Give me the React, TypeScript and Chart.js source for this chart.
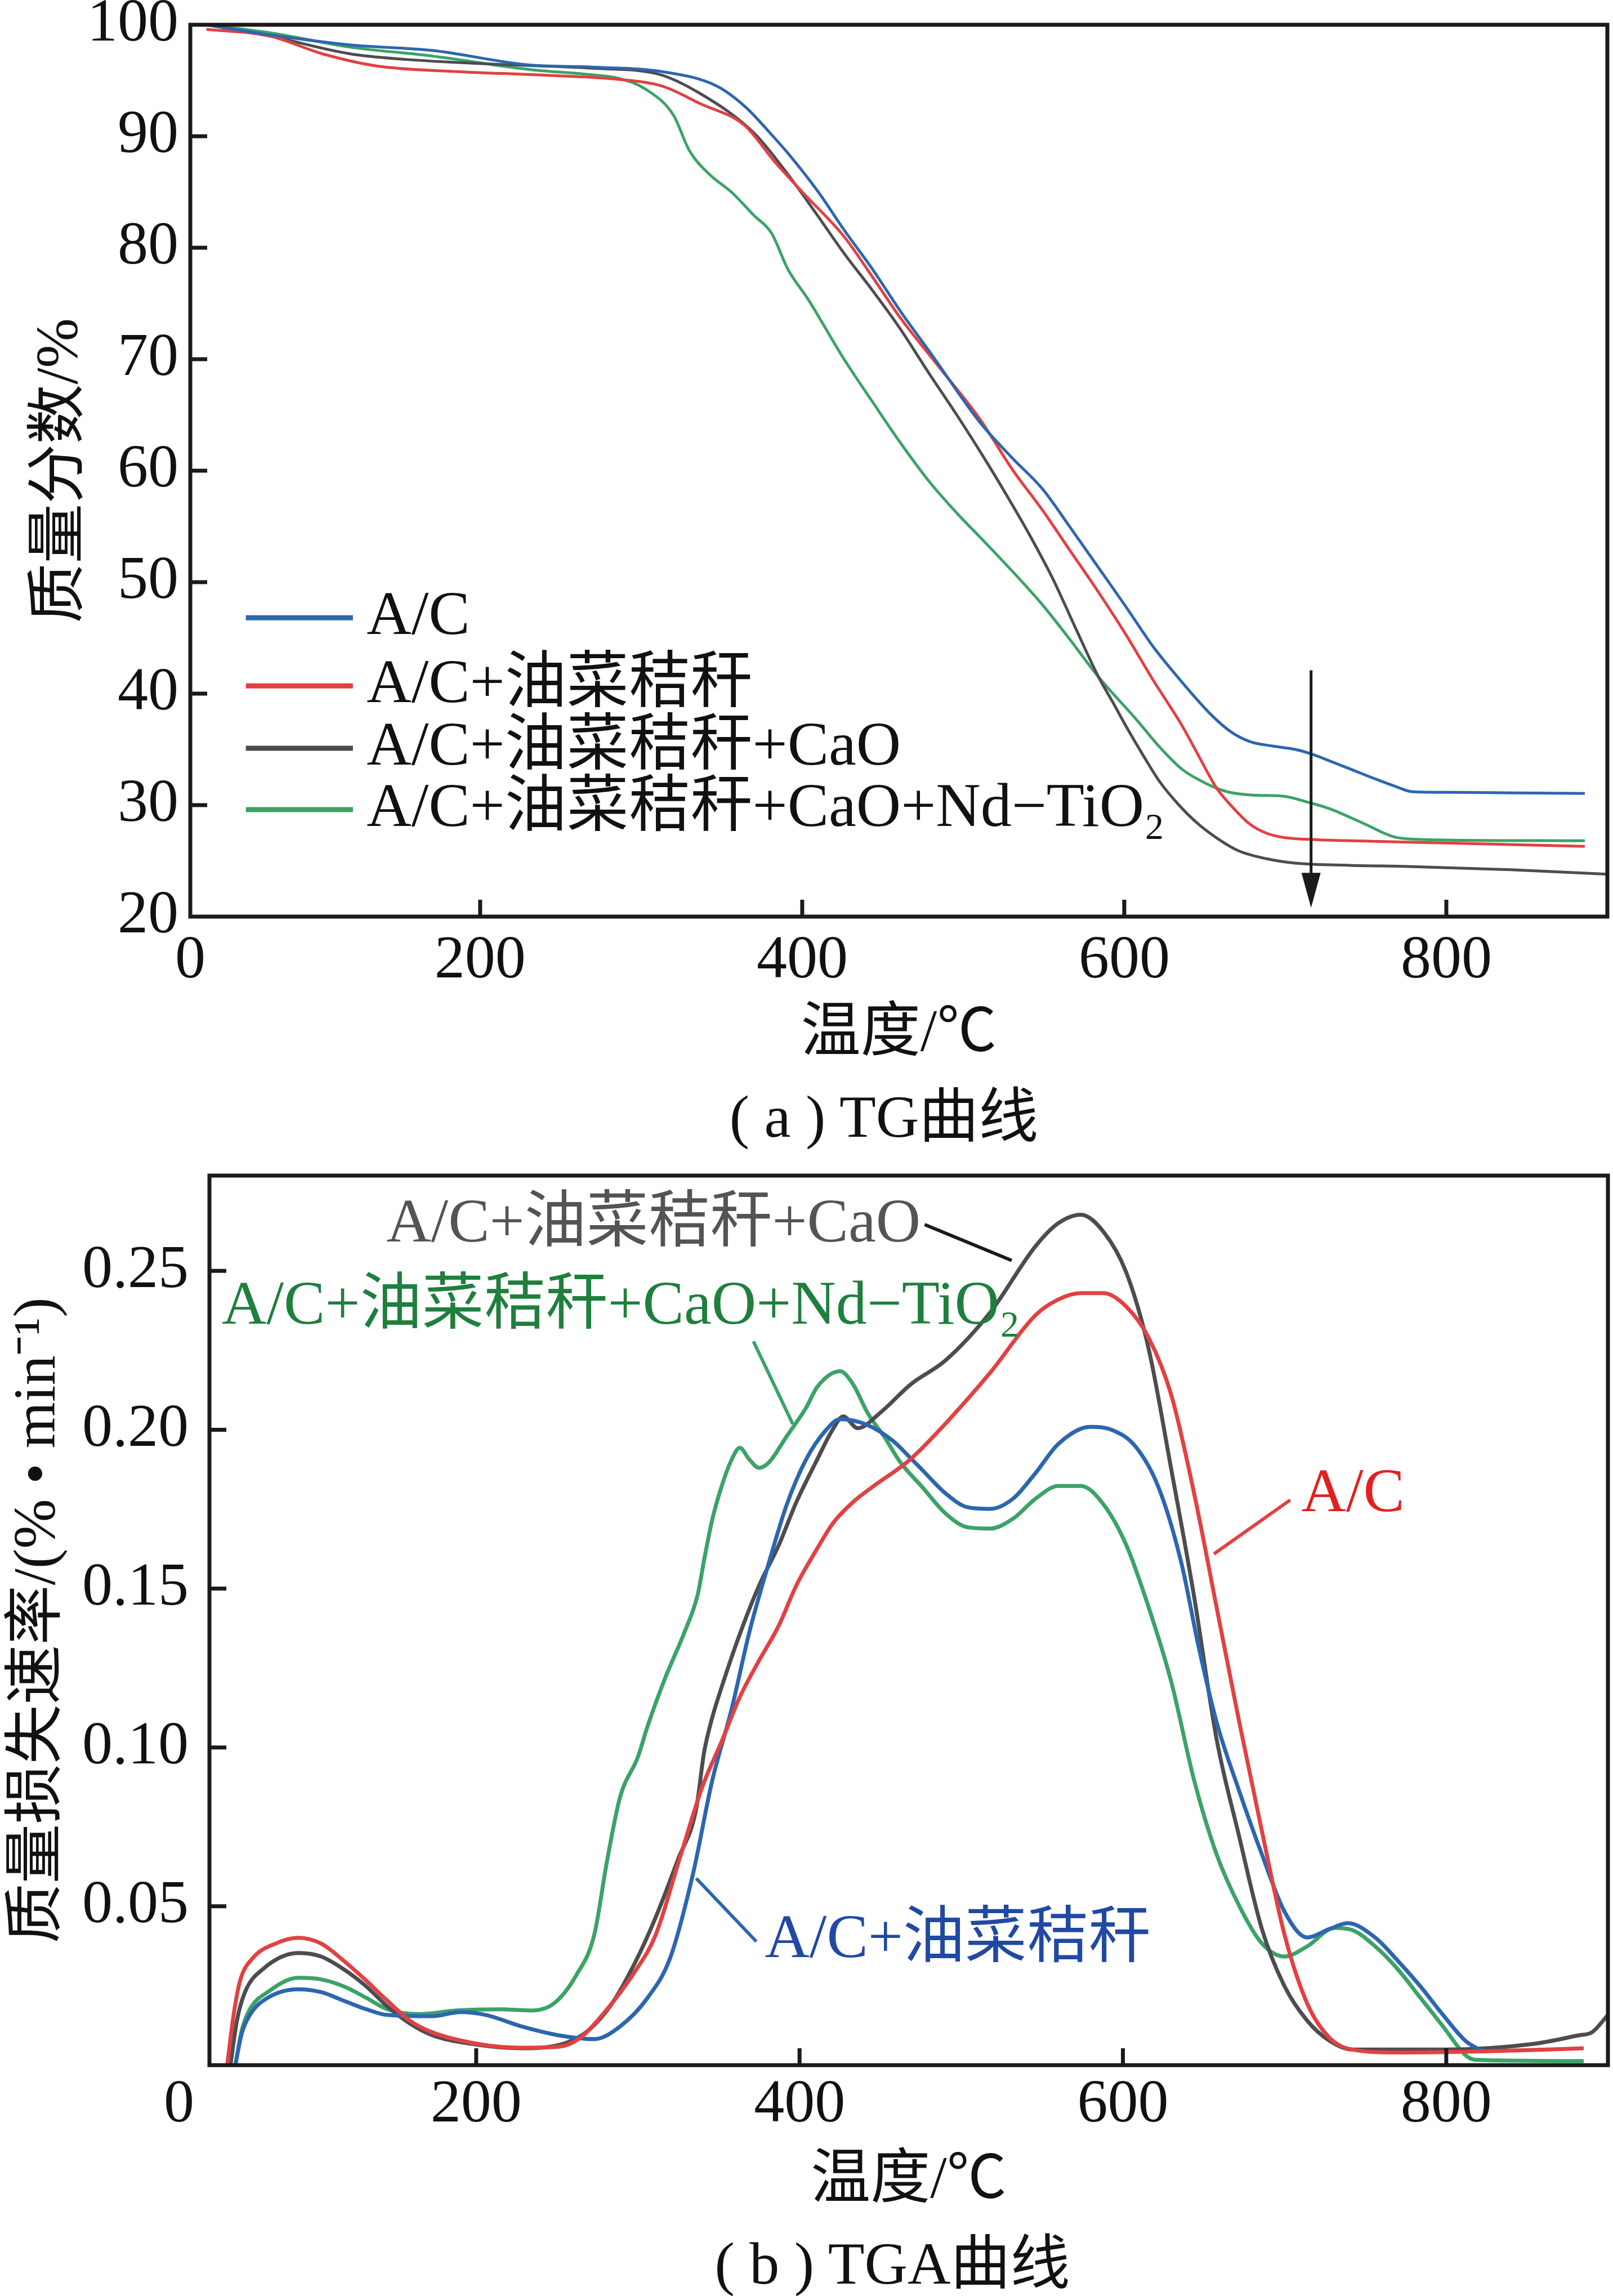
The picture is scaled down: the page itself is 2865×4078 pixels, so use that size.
import React, { useEffect, useRef } from "react";
import { Chart, registerables } from "chart.js";

Chart.register(...registerables);

const FONT = '"Liberation Serif", "Noto Sans CJK SC", serif';
const INK = "#1a1a1a";
const BLUE = "#2c66b0";
const RED = "#e24142";
const GRAY = "#4d4d4f";
const GREEN = "#3ba367";

// ---------- (a) TG data ----------
const TG_AC_T = [30, 69, 119, 170, 230, 270, 313, 347, 365, 380, 391, 410, 426, 444, 461, 480, 510, 530, 549, 566, 584, 601, 618, 636, 654, 666, 678, 692, 706, 716, 727, 741, 755, 768, 779, 800, 840, 886];
const TG_AC_V = [100, 99.1, 98.2, 97.7, 96.4, 96.2, 95.8, 94.5, 92.6, 90.3, 88.5, 85.0, 81.6, 78.0, 74.3, 70.5, 64.4, 61.2, 58.4, 55.0, 51.3, 47.8, 44.2, 41.0, 38.1, 36.6, 35.7, 35.3, 35.0, 34.6, 34.0, 33.2, 32.4, 31.7, 31.2, 31.15, 31.1, 31.05];

const TG_RS_T = [30, 69, 102, 136, 186, 236, 286, 313, 337, 364, 383, 400, 426, 444, 461, 485, 510, 531, 549, 566, 584, 601, 618, 636, 647, 657, 668, 678, 688, 699, 720, 741, 800, 886];
const TG_RS_V = [99.6, 99.0, 97.4, 96.3, 95.8, 95.5, 95.1, 94.5, 92.9, 91.0, 87.7, 85.0, 81.0, 77.3, 73.7, 69.3, 64.7, 60.0, 56.5, 52.9, 49.1, 45.3, 41.2, 37.1, 34.2, 31.6, 29.7, 28.3, 27.5, 27.1, 26.9, 26.8, 26.6, 26.3];

const TG_CAO_T = [30, 69, 119, 153, 203, 270, 310, 337, 370, 391, 408, 426, 444, 461, 478, 496, 514, 531, 544, 556, 570, 584, 593, 601, 612, 622, 634, 646, 660, 671, 688, 706, 740, 776, 840, 900];
const TG_CAO_V = [100, 99.0, 97.4, 96.9, 96.5, 96.1, 95.6, 93.8, 90.3, 86.6, 83.2, 79.5, 76.1, 72.7, 68.9, 65.0, 60.9, 56.8, 53.5, 50.2, 45.8, 41.5, 39.2, 37.1, 34.4, 32.1, 30.0, 28.3, 26.8, 25.9, 25.2, 24.8, 24.6, 24.5, 24.2, 23.8];

const TG_ND_T = [30, 69, 119, 170, 230, 270, 286, 303, 320, 330, 343, 356, 370, 381, 391, 404, 426, 444, 461, 479, 496, 514, 531, 549, 566, 584, 608, 622, 636, 650, 664, 680, 699, 713, 727, 748, 769, 790, 886];
const TG_ND_V = [100, 99.3, 98.0, 97.2, 96.0, 95.5, 95.2, 94.2, 91.9, 88.7, 86.5, 85.0, 82.9, 81.3, 78.1, 75.3, 70.0, 66.1, 62.5, 59.0, 56.2, 53.5, 50.9, 48.0, 44.9, 41.5, 37.6, 35.2, 33.2, 32.0, 31.2, 30.9, 30.8, 30.3, 29.7, 28.4, 27.1, 26.9, 26.8];

// ---------- (b) TGA data ----------
const DTG_AC_T = [46, 50, 54, 62, 76, 90, 104, 118, 132, 145, 159, 173, 201, 228, 251, 264, 278, 298, 311, 326, 340, 352, 363, 375, 387, 398, 410, 421, 433, 444, 469, 490, 518, 546, 560, 574, 588, 602, 616, 630, 644, 658, 672, 686, 700, 714, 728, 742, 770, 826, 885];
const DTG_AC_V = [0.0, 0.016, 0.0266, 0.0338, 0.0383, 0.0401, 0.0383, 0.0329, 0.0266, 0.0203, 0.014, 0.0103, 0.0067, 0.0055, 0.0058, 0.0085, 0.0158, 0.0293, 0.041, 0.0653, 0.0878, 0.1021, 0.1158, 0.1274, 0.1382, 0.151, 0.1618, 0.1708, 0.1772, 0.1816, 0.1909, 0.2018, 0.218, 0.2361, 0.241, 0.243, 0.243, 0.2388, 0.2289, 0.2108, 0.1801, 0.144, 0.1079, 0.0736, 0.041, 0.0194, 0.0085, 0.0049, 0.004, 0.0044, 0.0053];

const DTG_CAO_T = [48, 52, 57, 68, 90, 104, 118, 132, 145, 159, 173, 201, 228, 256, 270, 284, 298, 311, 325, 336, 341, 346, 352, 363, 375, 387, 398, 410, 421, 427, 436, 450, 469, 490, 518, 546, 560, 574, 588, 602, 616, 630, 644, 658, 672, 686, 700, 714, 728, 742, 798, 854, 882, 890, 900];
const DTG_CAO_V = [0.0, 0.014, 0.023, 0.0302, 0.0353, 0.0342, 0.0302, 0.0248, 0.0185, 0.0131, 0.0094, 0.0064, 0.0053, 0.0071, 0.0112, 0.0194, 0.032, 0.0465, 0.065, 0.0805, 0.0986, 0.1094, 0.1193, 0.1356, 0.151, 0.1635, 0.1772, 0.1897, 0.2005, 0.2042, 0.2005, 0.2054, 0.2144, 0.2217, 0.237, 0.2578, 0.265, 0.2677, 0.2623, 0.2496, 0.2253, 0.1873, 0.1476, 0.1025, 0.0718, 0.0428, 0.0248, 0.014, 0.0076, 0.0049, 0.0049, 0.0067, 0.0094, 0.0103, 0.0158];

const DTG_RS_T = [51, 55, 60, 71, 90, 104, 118, 132, 145, 173, 190, 206, 228, 251, 273, 289, 306, 320, 334, 346, 358, 369, 381, 392, 404, 416, 425, 442, 458, 469, 476, 490, 504, 518, 532, 546, 560, 580, 593, 608, 622, 636, 647, 658, 672, 686, 700, 714, 728, 739, 756, 770, 784, 798, 812, 822];
const DTG_RS_V = [0.0, 0.01, 0.0158, 0.0212, 0.0239, 0.023, 0.0203, 0.0176, 0.0158, 0.0154, 0.0167, 0.0158, 0.0122, 0.0094, 0.0082, 0.0122, 0.0212, 0.0338, 0.06, 0.0896, 0.1121, 0.1364, 0.1581, 0.1763, 0.1906, 0.1997, 0.2033, 0.2015, 0.1964, 0.1909, 0.1873, 0.1801, 0.1756, 0.1751, 0.1783, 0.1864, 0.1955, 0.2009, 0.2, 0.1946, 0.1819, 0.1584, 0.1313, 0.1079, 0.0862, 0.0663, 0.0483, 0.0402, 0.0429, 0.0447, 0.0402, 0.0329, 0.0248, 0.0158, 0.0076, 0.0045];

const DTG_ND_T = [51, 55, 60, 71, 90, 104, 118, 132, 145, 165, 187, 215, 234, 248, 262, 273, 281, 289, 300, 306, 317, 329, 337, 341, 346, 352, 358, 363, 369, 375, 381, 392, 404, 411, 425, 433, 442, 453, 462, 476, 490, 504, 518, 532, 546, 560, 574, 588, 602, 616, 630, 644, 658, 672, 686, 700, 714, 731, 742, 756, 770, 784, 798, 812, 818, 885];
const DTG_ND_V = [0.0, 0.011, 0.0176, 0.023, 0.0275, 0.027, 0.0248, 0.0212, 0.0176, 0.0161, 0.0172, 0.0176, 0.0172, 0.0194, 0.0284, 0.041, 0.0645, 0.0844, 0.097, 0.1067, 0.122, 0.1365, 0.1481, 0.1591, 0.1717, 0.1825, 0.1906, 0.1943, 0.1906, 0.188, 0.1897, 0.1979, 0.2069, 0.2135, 0.2184, 0.2144, 0.2054, 0.1973, 0.19, 0.1819, 0.1738, 0.1693, 0.1689, 0.172, 0.1783, 0.1823, 0.1823, 0.1765, 0.1638, 0.144, 0.1205, 0.0898, 0.0663, 0.0501, 0.0383, 0.0342, 0.0374, 0.0432, 0.0425, 0.0374, 0.0302, 0.0212, 0.0122, 0.0031, 0.0017, 0.0013];

// ---------- labels ----------
const SERIES_NAMES = ["A/C", "A/C+油菜秸秆", "A/C+油菜秸秆+CaO", "A/C+油菜秸秆+CaO+Nd−TiO"];
const SERIES_SUBS = ["", "", "", "2"];
const TG_X_TICKS = [20, 200, 400, 600, 800];
const TGA_X_TICKS = [35, 200, 400, 600, 800];
const TGA_Y_TICKS = [0.05, 0.1, 0.15, 0.2, 0.25];

// legend rows (panel a) in data coordinates: [lineStartT, lineEndT, textT], y rows
const LEGEND_X = [54.5, 121, 129.5];
const LEGEND_Y = [46.8, 40.7, 35.1, 29.6];
// arrow (panel a)
const ARROW = { t: 716, from: 42.1, to: 20.8 };

// annotations (panel b): text anchor + leader line, data coordinates
const ANNOTATIONS = [
  { name: 2, color: "#545454", lineColor: INK, tx: 144.4, ty: 0.2644, l: [477.4, 0.2646, 531.2, 0.2533] },
  { name: 3, color: "#1f7f3d", lineColor: GREEN, tx: 42.7, ty: 0.2386, l: [371.5, 0.2278, 395.8, 0.2018] },
  { name: 0, color: "#e2201f", lineColor: RED, tx: 710.4, ty: 0.1795, l: [703.5, 0.1779, 656.3, 0.1609] },
  { name: 1, color: "#2149a3", lineColor: BLUE, tx: 378.5, ty: 0.0391, l: [373.3, 0.0389, 336.1, 0.0588] },
];

const pts = (t: number[], v: number[]) => t.map((x, i) => ({ x, y: v[i] }));

function drawRich(ctx: CanvasRenderingContext2D, x: number, y: number, main: string, sub: string, size: number, color: string) {
  ctx.font = `${size}px ${FONT}`;
  ctx.fillStyle = color;
  ctx.textBaseline = "middle";
  ctx.textAlign = "left";
  ctx.fillText(main, x, y);
  if (sub) {
    const w = ctx.measureText(main).width;
    ctx.font = `${Math.round(size * 0.6)}px ${FONT}`;
    ctx.fillText(sub, x + w + 2, y + size * 0.32);
  }
}

function framePlugin(lw: number, tickLen: number, tickW: number) {
  return {
    id: "frameTicks",
    afterDatasetsDraw(chart: any) {
      const { ctx, chartArea: a } = chart;
      const xs = chart.scales.x;
      const ys = chart.scales.y;
      ctx.save();
      ctx.strokeStyle = INK;
      ctx.lineWidth = tickW;
      ctx.beginPath();
      for (const t of xs.ticks) {
        const p = xs.getPixelForValue(t.value);
        if (p <= a.left + 3 || p >= a.right - 3) continue;
        ctx.moveTo(p, a.bottom);
        ctx.lineTo(p, a.bottom - tickLen);
      }
      for (const t of ys.ticks) {
        const p = ys.getPixelForValue(t.value);
        if (p <= a.top + 3 || p >= a.bottom - 3) continue;
        ctx.moveTo(a.left, p);
        ctx.lineTo(a.left + tickLen, p);
      }
      ctx.stroke();
      ctx.lineWidth = lw;
      ctx.strokeRect(a.left, a.top, a.right - a.left, a.bottom - a.top);
      ctx.restore();
    },
  };
}

const legendPlugin = {
  id: "tgLegend",
  afterDraw(chart: any) {
    const { ctx } = chart;
    const xs = chart.scales.x;
    const ys = chart.scales.y;
    const colors = [BLUE, RED, GRAY, GREEN];
    ctx.save();
    for (let i = 0; i < 4; i++) {
      const y = ys.getPixelForValue(LEGEND_Y[i]);
      ctx.strokeStyle = colors[i];
      ctx.lineWidth = 9;
      ctx.beginPath();
      ctx.moveTo(xs.getPixelForValue(LEGEND_X[0]), y);
      ctx.lineTo(xs.getPixelForValue(LEGEND_X[1]), y);
      ctx.stroke();
      drawRich(ctx, xs.getPixelForValue(LEGEND_X[2]), y, SERIES_NAMES[i], SERIES_SUBS[i], 110, "#111");
    }
    // arrow
    const ax = xs.getPixelForValue(ARROW.t);
    const y1 = ys.getPixelForValue(ARROW.from);
    const y2 = ys.getPixelForValue(ARROW.to);
    ctx.strokeStyle = INK;
    ctx.fillStyle = INK;
    ctx.lineWidth = 5;
    ctx.beginPath();
    ctx.moveTo(ax, y1);
    ctx.lineTo(ax, y2 - 50);
    ctx.stroke();
    ctx.beginPath();
    ctx.moveTo(ax, y2);
    ctx.lineTo(ax - 17, y2 - 62);
    ctx.lineTo(ax + 17, y2 - 62);
    ctx.closePath();
    ctx.fill();
    ctx.restore();
  },
};

const annotationPlugin = {
  id: "tgaNotes",
  afterDraw(chart: any) {
    const { ctx } = chart;
    const xs = chart.scales.x;
    const ys = chart.scales.y;
    ctx.save();
    for (const a of ANNOTATIONS) {
      ctx.strokeStyle = a.lineColor;
      ctx.lineWidth = 6;
      ctx.beginPath();
      ctx.moveTo(xs.getPixelForValue(a.l[0]), ys.getPixelForValue(a.l[1]));
      ctx.lineTo(xs.getPixelForValue(a.l[2]), ys.getPixelForValue(a.l[3]));
      ctx.stroke();
      drawRich(ctx, xs.getPixelForValue(a.tx), ys.getPixelForValue(a.ty), SERIES_NAMES[a.name], SERIES_SUBS[a.name], 110, a.color);
    }
    ctx.restore();
  },
};

function ds(label: string, data: any[], color: string, width: number) {
  return {
    label,
    data,
    borderColor: color,
    backgroundColor: color,
    borderWidth: width,
    pointRadius: 0,
    fill: false,
    cubicInterpolationMode: "monotone" as const,
  };
}

function zeroPad(s: any) {
  s.paddingLeft = 0;
  s.paddingRight = 0;
  s.paddingTop = 0;
  s.paddingBottom = 0;
}

function tgConfig(): any {
  return {
    type: "line",
    data: {
      datasets: [
        ds(SERIES_NAMES[0], pts(TG_AC_T, TG_AC_V), BLUE, 5),
        ds(SERIES_NAMES[1], pts(TG_RS_T, TG_RS_V), RED, 5),
        ds(SERIES_NAMES[2], pts(TG_CAO_T, TG_CAO_V), GRAY, 5),
        ds(SERIES_NAMES[3], pts(TG_ND_T, TG_ND_V), GREEN, 5),
      ],
    },
    options: {
      animation: false,
      responsive: false,
      devicePixelRatio: 1,
      events: [],
      layout: { padding: { left: 0, top: 44, right: 10, bottom: 0 } },
      plugins: { legend: { display: false }, tooltip: { enabled: false } },
      scales: {
        x: {
          type: "linear",
          min: 20,
          max: 900,
          afterBuildTicks: (s: any) => {
            s.ticks = TG_X_TICKS.map((v) => ({ value: v }));
          },
          afterFit: (s: any) => {
            s.height = 292;
            zeroPad(s);
          },
          ticks: {
            autoSkip: false,
            maxRotation: 0,
            padding: 15,
            color: "#111",
            font: { family: FONT, size: 108 },
            callback: (v: any) => (v === TG_X_TICKS[0] ? "0" : String(v)),
          },
          grid: { display: false, drawTicks: false, tickLength: 0 },
          border: { display: false },
          title: { display: true, text: "温度/℃", color: "#111", font: { family: FONT, size: 106 }, padding: { top: 0, bottom: 18 } },
        },
        y: {
          type: "linear",
          min: 20,
          max: 100,
          afterFit: (s: any) => {
            s.width = 338;
            zeroPad(s);
          },
          ticks: { stepSize: 10, padding: 21, color: "#111", font: { family: FONT, size: 108 } },
          grid: { display: false, drawTicks: false, tickLength: 0 },
          border: { display: false },
          title: { display: true, text: "质量分数/%", color: "#111", font: { family: FONT, size: 106 }, padding: { top: 46, bottom: 0 } },
        },
      },
    },
    plugins: [framePlugin(7, 30, 7), legendPlugin],
  };
}

function tgaConfig(): any {
  return {
    type: "line",
    data: {
      datasets: [
        ds(SERIES_NAMES[0], pts(DTG_AC_T, DTG_AC_V), RED, 7),
        ds(SERIES_NAMES[1], pts(DTG_RS_T, DTG_RS_V), BLUE, 7),
        ds(SERIES_NAMES[2], pts(DTG_CAO_T, DTG_CAO_V), GRAY, 7),
        ds(SERIES_NAMES[3], pts(DTG_ND_T, DTG_ND_V), GREEN, 7),
      ],
    },
    options: {
      animation: false,
      responsive: false,
      devicePixelRatio: 1,
      events: [],
      layout: { padding: { left: 0, top: 88, right: 9, bottom: 0 } },
      plugins: { legend: { display: false }, tooltip: { enabled: false } },
      scales: {
        x: {
          type: "linear",
          min: 35,
          max: 900,
          afterBuildTicks: (s: any) => {
            s.ticks = TGA_X_TICKS.map((v) => ({ value: v }));
          },
          afterFit: (s: any) => {
            s.height = 282;
            zeroPad(s);
          },
          ticks: {
            autoSkip: false,
            maxRotation: 0,
            padding: 7,
            color: "#111",
            font: { family: FONT, size: 108 },
            callback: (v: any) => (v === TGA_X_TICKS[0] ? "0\u2003" : String(v)),
          },
          grid: { display: false, drawTicks: false, tickLength: 0 },
          border: { display: false },
          title: { display: true, text: "温度/℃", color: "#111", font: { family: FONT, size: 106 }, padding: { top: 0, bottom: 11 } },
        },
        y: {
          type: "linear",
          min: 0,
          max: 0.28,
          afterBuildTicks: (s: any) => {
            s.ticks = TGA_Y_TICKS.map((v) => ({ value: v }));
          },
          afterFit: (s: any) => {
            s.width = 372;
            zeroPad(s);
          },
          ticks: { padding: 37, color: "#111", font: { family: FONT, size: 108 }, callback: (v: any) => Number(v).toFixed(2) },
          grid: { display: false, drawTicks: false, tickLength: 0 },
          border: { display: false },
          title: { display: true, text: "质量损失速率/(% • min⁻¹)", color: "#111", font: { family: FONT, size: 106 }, padding: { top: 6, bottom: 0 } },
        },
      },
    },
    plugins: [framePlugin(7, 30, 7), annotationPlugin],
  };
}

function ChartCanvas(props: { make: () => any; top: number; width: number; height: number }) {
  const ref = useRef<HTMLCanvasElement | null>(null);
  useEffect(() => {
    const chart = new Chart(ref.current as HTMLCanvasElement, props.make());
    return () => chart.destroy();
  }, []);
  return (
    <canvas
      ref={ref}
      width={props.width}
      height={props.height}
      style={{ position: "absolute", left: 0, top: props.top, width: props.width, height: props.height }}
    />
  );
}

const captionStyle = (cx: number, cy: number): React.CSSProperties => ({
  position: "absolute",
  left: cx,
  top: cy - 55,
  transform: "translateX(-50%)",
  whiteSpace: "nowrap",
  fontFamily: FONT,
  fontSize: 106,
  lineHeight: "110px",
  color: "#111",
});

export default function App() {
  return (
    <div style={{ position: "absolute", left: 0, top: 0, width: 2865, height: 4078, background: "#fff", overflow: "hidden" }}>
      <ChartCanvas make={tgConfig} top={0} width={2865} height={1920} />
      <ChartCanvas make={tgaConfig} top={2000} width={2865} height={1950} />
      <div style={captionStyle(1570, 1984)}>( a ) TG曲线</div>
      <div style={captionStyle(1585, 4021)}>( b ) TGA曲线</div>
    </div>
  );
}
